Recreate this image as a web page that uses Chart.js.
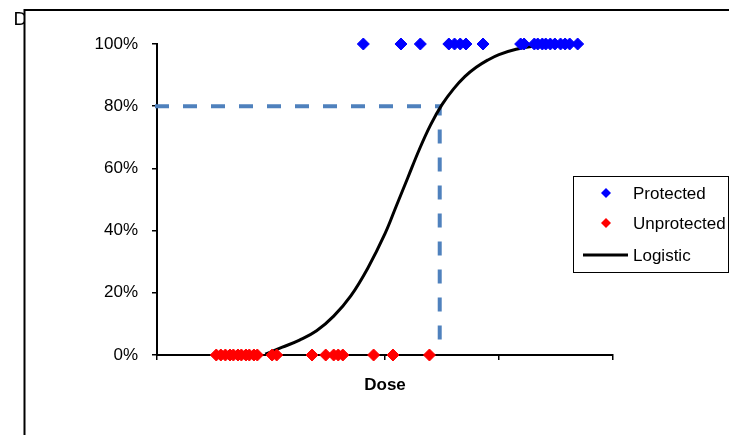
<!DOCTYPE html>
<html>
<head>
<meta charset="utf-8">
<script src="https://cdn.jsdelivr.net/npm/chart.js@4/dist/chart.umd.min.js"></script>
<style>
  html, body { margin: 0; padding: 0; background: #fff; }
  canvas { display: block; }
</style>
</head>
<body>
<canvas id="c" width="729" height="435"></canvas>
<script>
// Dose of animals that stayed protected (plotted at 100%)
const protectedDose = [1.81, 2.14, 2.31, 2.56, 2.61, 2.66, 2.71, 2.86, 3.19, 3.22,
  3.31, 3.34, 3.38, 3.41, 3.45, 3.49, 3.54, 3.58, 3.62, 3.69];
// Dose of animals that were not protected (plotted at 0%)
const unprotectedDose = [0.52, 0.56, 0.60, 0.64, 0.67, 0.71, 0.74, 0.78, 0.81, 0.85,
  0.88, 1.01, 1.05, 1.36, 1.48, 1.55, 1.59, 1.63, 1.90, 2.07, 2.39];
// Fitted logistic curve: dose and probability of protection (%)
const logisticDose = [0.95, 1.10, 1.25, 1.40, 1.55, 1.70, 1.85, 2.00, 2.10, 2.20, 2.30,
  2.40, 2.50, 2.60, 2.70, 2.80, 2.90, 3.00, 3.15, 3.30, 3.50, 3.70];
const logisticPct = [0.3, 2.5, 4.8, 7.8, 12.5, 19.0, 28.0, 39.0, 48.0, 57.0, 66.0,
  74.0, 80.5, 85.5, 89.5, 92.5, 94.8, 96.6, 98.3, 99.3, 99.8, 100];
const cutoffPct = 80;
const cutoffDose = 2.48;
// Axis ticks
const yTickValues = [0, 20, 40, 60, 80, 100];
const yTickLabels = ['0%', '20%', '40%', '60%', '80%', '100%'];
const xTickStep = 1;
const xRange = [0, 4];
const seriesNames = ['Protected', 'Unprotected', 'Logistic'];

const FONT = '"Liberation Sans", Arial, Helvetica, sans-serif';

const framePlugin = {
  id: 'frame',
  beforeDraw(chart) {
    const ctx = chart.ctx;
    ctx.save();
    ctx.fillStyle = '#fff';
    ctx.fillRect(0, 0, chart.width, chart.height);
    ctx.fillStyle = '#000';
    ctx.font = '19px ' + FONT;
    ctx.textBaseline = 'alphabetic';
    ctx.textAlign = 'left';
    ctx.fillText('D', 13.5, 25);
    ctx.fillStyle = '#fff';
    ctx.fillRect(25, 10, chart.width - 25, chart.height - 10);
    ctx.strokeStyle = '#000';
    ctx.lineWidth = 2;
    ctx.beginPath();
    ctx.moveTo(24.5, chart.height);
    ctx.lineTo(24.5, 10);
    ctx.lineTo(chart.width, 10);
    ctx.stroke();
    ctx.restore();
  }
};

const legendPlugin = {
  id: 'boxLegend',
  afterDraw(chart) {
    const ctx = chart.ctx;
    const ds = chart.data.datasets;
    ctx.save();
    ctx.strokeStyle = '#000';
    ctx.lineWidth = 1;
    ctx.strokeRect(573.5, 176.5, 155, 96);
    ctx.font = '17px ' + FONT;
    ctx.textBaseline = 'middle';
    ctx.textAlign = 'left';
    const rows = [193, 223, 255];
    for (let i = 0; i < 3; i++) {
      const d = ds[i];
      const y = rows[i];
      if (i < 2) {
        const r = 5;
        ctx.fillStyle = d.backgroundColor;
        ctx.beginPath();
        ctx.moveTo(606, y - r);
        ctx.lineTo(606 + r, y);
        ctx.lineTo(606, y + r);
        ctx.lineTo(606 - r, y);
        ctx.closePath();
        ctx.fill();
      } else {
        ctx.strokeStyle = d.borderColor;
        ctx.lineWidth = 3;
        ctx.beginPath();
        ctx.moveTo(583, y);
        ctx.lineTo(628, y);
        ctx.stroke();
      }
      ctx.fillStyle = '#000';
      ctx.fillText(d.label, 633, y + 1);
    }
    ctx.restore();
  }
};

const toPoints = (xs, ys) => xs.map((x, i) => ({ x: x, y: Array.isArray(ys) ? ys[i] : ys }));

new Chart(document.getElementById('c'), {
  type: 'scatter',
  data: {
    datasets: [
      {
        label: seriesNames[0],
        data: toPoints(protectedDose, 100),
        pointStyle: 'rectRot',
        pointRadius: 6,
        borderWidth: 1,
        backgroundColor: '#0000FF',
        borderColor: '#0000FF',
        showLine: false,
        clip: false,
        order: 1
      },
      {
        label: seriesNames[1],
        data: toPoints(unprotectedDose, 0),
        pointStyle: 'rectRot',
        pointRadius: 6,
        borderWidth: 1,
        backgroundColor: '#FF0000',
        borderColor: '#FF0000',
        showLine: false,
        clip: false,
        order: 1
      },
      {
        label: seriesNames[2],
        data: toPoints(logisticDose, logisticPct),
        showLine: true,
        borderColor: '#000000',
        backgroundColor: '#000000',
        borderWidth: 3,
        pointRadius: 0,
        tension: 0.4,
        clip: false,
        order: 2
      },
      {
        label: 'cutoff',
        data: [{ x: 0, y: cutoffPct }, { x: cutoffDose, y: cutoffPct }, { x: cutoffDose, y: 0 }],
        showLine: true,
        borderColor: '#4F81BD',
        borderWidth: 4,
        borderDash: [10, 18],
        borderCapStyle: 'square',
        pointRadius: 0,
        tension: 0,
        clip: false,
        order: 3
      }
    ]
  },
  options: {
    responsive: false,
    animation: false,
    events: [],
    layout: { padding: { left: 0, top: 44, right: 116, bottom: 0 } },
    plugins: { legend: { display: false }, tooltip: { enabled: false } },
    scales: {
      x: {
        type: 'linear',
        min: xRange[0],
        max: xRange[1],
        afterFit(s) { s.height = 80; },
        ticks: { stepSize: xTickStep, display: false },
        grid: { drawOnChartArea: false, drawTicks: true, tickLength: 5, color: '#000', lineWidth: 1.5 },
        border: { display: true, color: '#000', width: 2 },
        title: {
          display: true,
          text: 'Dose',
          color: '#000',
          font: { family: FONT, size: 17, weight: 'bold', lineHeight: 1.2 },
          padding: { top: 0, bottom: 39 }
        }
      },
      y: {
        type: 'linear',
        min: 0,
        max: 100,
        afterFit(s) { s.width = 157; },
        afterBuildTicks(s) { s.ticks = yTickValues.map(v => ({ value: v })); },
        ticks: {
          color: '#000',
          padding: 14,
          font: { family: FONT, size: 17 },
          callback: (v) => yTickLabels[yTickValues.indexOf(v)]
        },
        grid: { drawOnChartArea: false, drawTicks: true, tickLength: 5, color: '#000', lineWidth: 1.5 },
        border: { display: true, color: '#000', width: 2 }
      }
    }
  },
  plugins: [framePlugin, legendPlugin]
});
</script>
</body>
</html>
